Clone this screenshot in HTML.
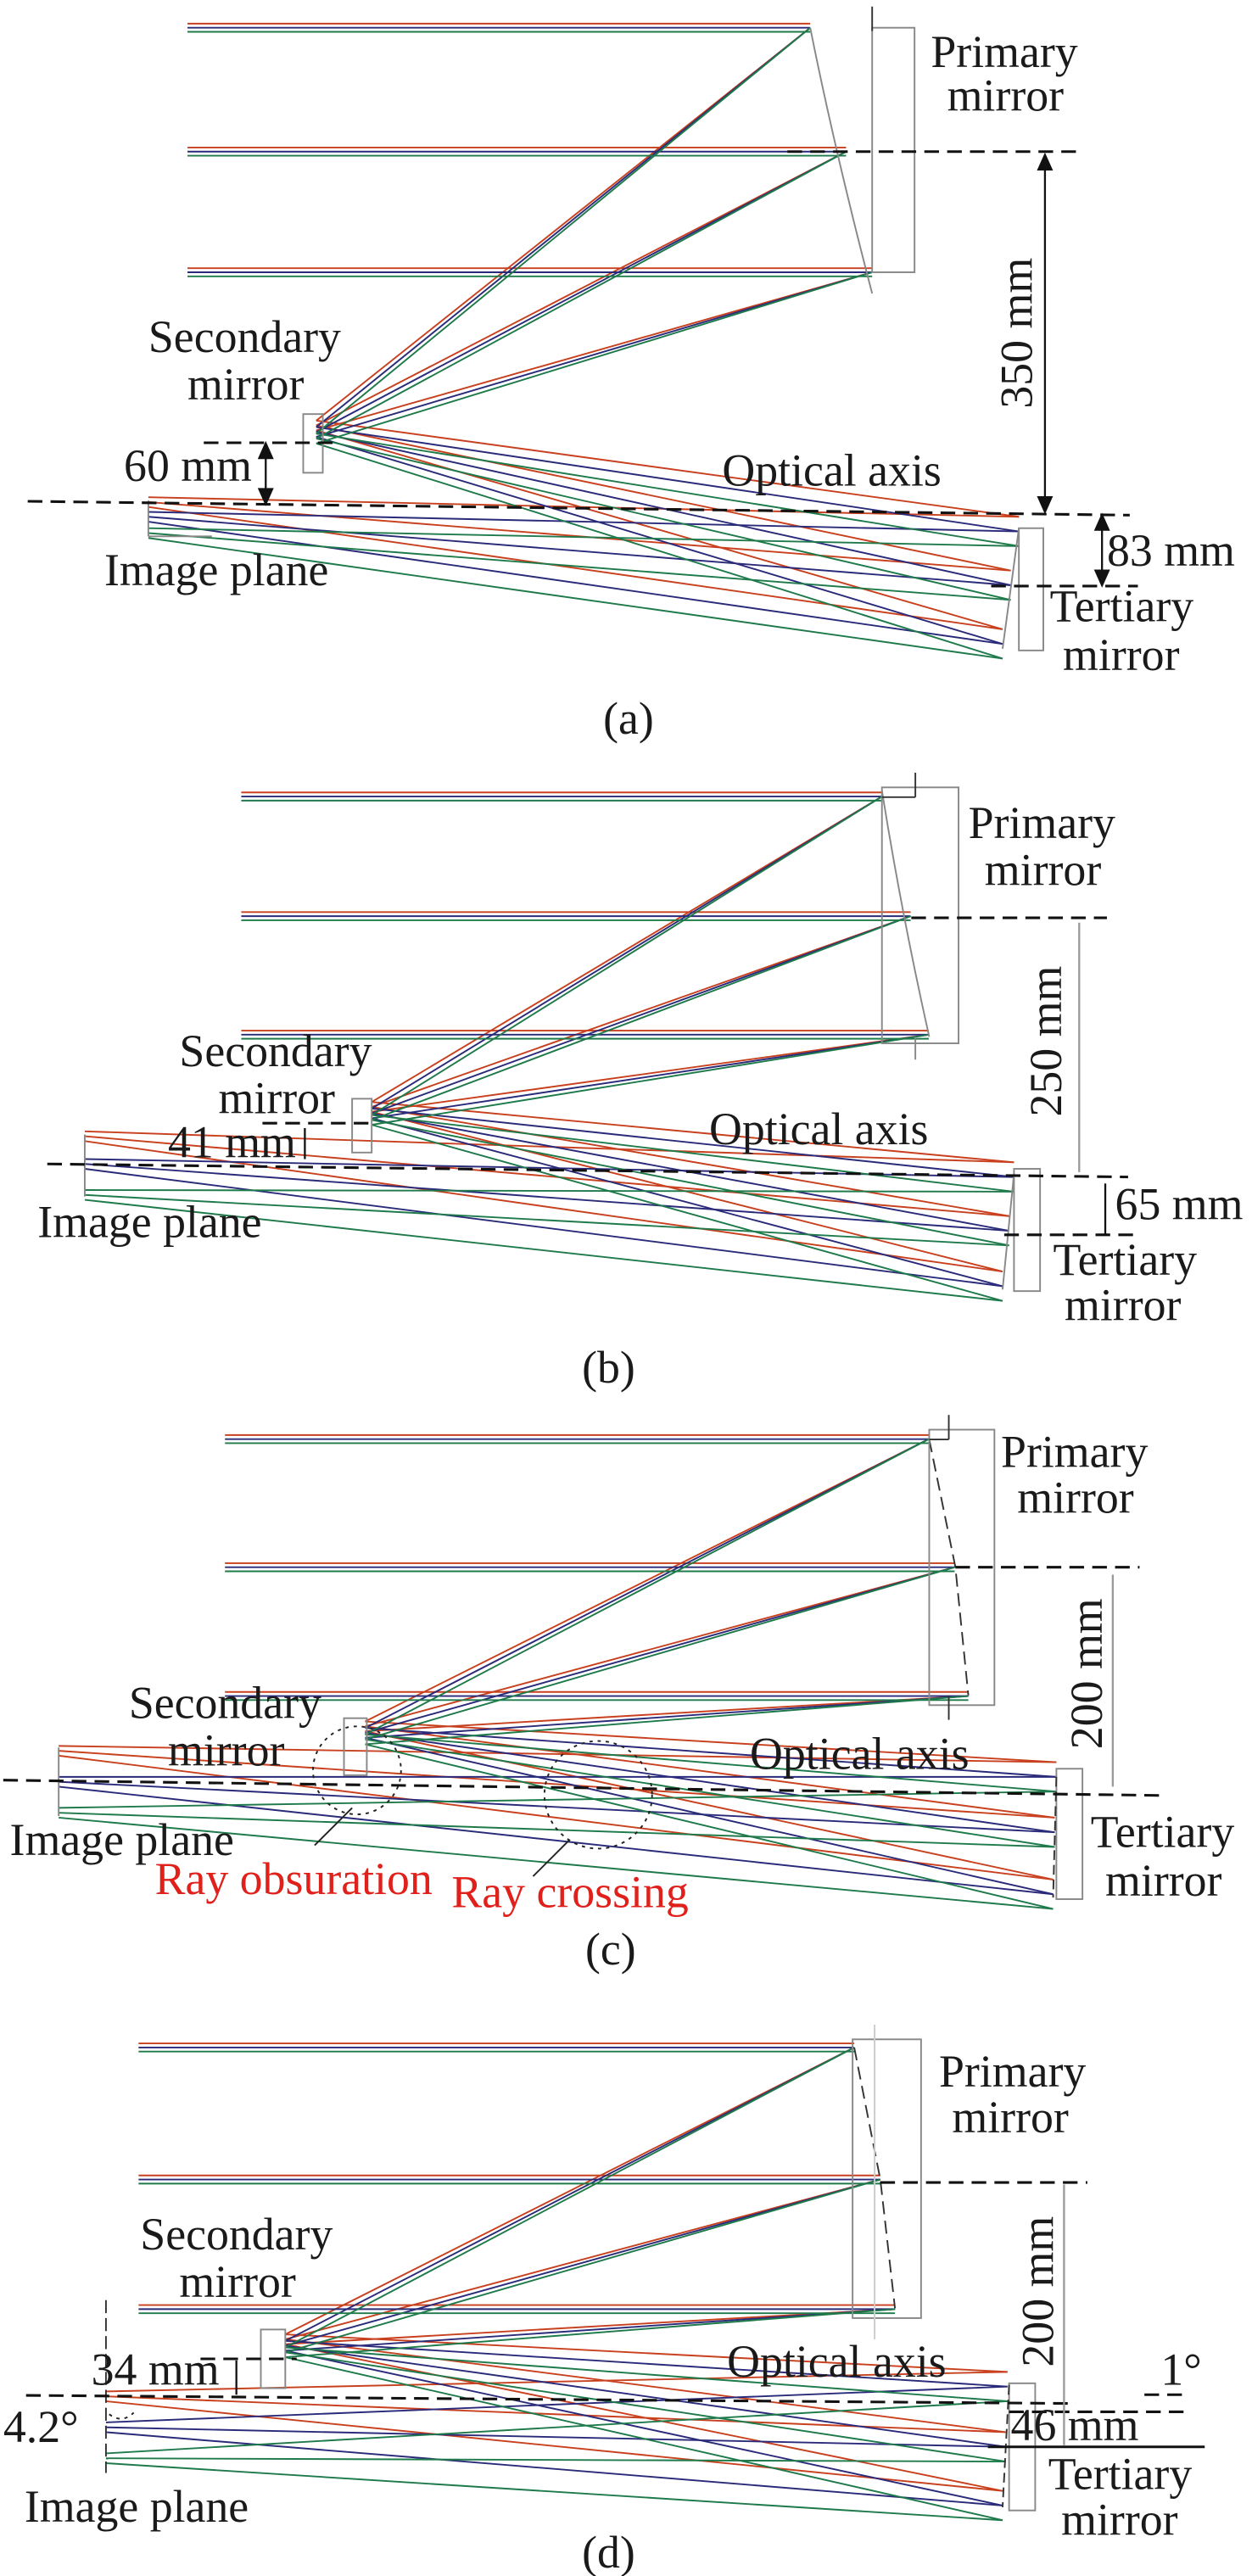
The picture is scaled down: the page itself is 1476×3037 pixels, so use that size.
<!DOCTYPE html>
<html><head><meta charset="utf-8">
<style>
html,body{margin:0;padding:0;background:#fff;}
svg{display:block;}
text{font-family:"Liberation Serif",serif;fill:#1a1a1a;}
</style></head>
<body>
<svg id="s" xmlns="http://www.w3.org/2000/svg" width="1476" height="3037" viewBox="0 0 768 1580.2">
<g id="rays" stroke-width="1" fill="none"></g>
<g fill="none" stroke="#888" stroke-width="1">
<!-- a -->
<path d="M497,17 Q512,92 535,180"/><rect x="535" y="17" width="26" height="150"/><line x1="535" y1="4" x2="535" y2="19" stroke="#333"/>
<rect x="186" y="254" width="12" height="36"/>
<rect x="625" y="324" width="15" height="75"/><path d="M625,324 L615,398"/>
<line x1="91" y1="307" x2="91" y2="329"/><line x1="91" y1="329" x2="130" y2="329"/>
<!-- b -->
<path d="M541,485 Q553,560 570,636"/><rect x="541" y="483" width="47" height="157"/><line x1="561.5" y1="474" x2="561.5" y2="489" stroke="#333"/><line x1="541" y1="489" x2="561.5" y2="489" stroke="#333"/>
<line x1="561.5" y1="636" x2="561.5" y2="650"/>
<rect x="216" y="674" width="12" height="33"/>
<rect x="622" y="717" width="16" height="75"/><path d="M622,720 L615,791"/>
<line x1="52" y1="696" x2="52" y2="734"/>
<!-- c -->
<path d="M570,883 L586,961 L594,1040" stroke-dasharray="8,4" stroke="#333"/><rect x="570" y="877" width="40" height="169"/><line x1="582" y1="868" x2="582" y2="883" stroke="#333"/><line x1="570" y1="883" x2="582" y2="883" stroke="#333"/>
<line x1="582" y1="1040" x2="582" y2="1055" stroke="#333"/>
<rect x="211" y="1054" width="14" height="35"/>
<rect x="648" y="1085" width="16" height="80"/><path d="M648,1090 L646,1164" stroke-dasharray="6,3" stroke="#333"/>
<line x1="36" y1="1072" x2="36" y2="1114"/>
<!-- d -->
<path d="M524,1256 L540,1337 L549,1416" stroke-dasharray="8,4" stroke="#333"/><rect x="523" y="1251" width="42" height="171"/><line x1="536.5" y1="1242" x2="536.5" y2="1435" stroke="#ccc"/>
<rect x="160" y="1429" width="15" height="36"/>
<rect x="619" y="1462" width="16" height="78"/><path d="M619,1463 L615,1538" stroke-dasharray="6,3" stroke="#333"/>
<line x1="65" y1="1411" x2="65" y2="1517" stroke="#333" stroke-dasharray="8,3"/>
</g>
<g stroke="#111" stroke-width="1.6" fill="none" stroke-dasharray="9,5">
<line x1="483" y1="93" x2="661" y2="93"/>
<line x1="125" y1="271.6" x2="208" y2="271.6"/>
<line x1="17" y1="307.5" x2="693" y2="316"/>
<line x1="608" y1="359.5" x2="698" y2="359.5"/>
<line x1="559" y1="563" x2="679" y2="563"/>
<line x1="161" y1="689" x2="228" y2="689"/>
<line x1="29" y1="714" x2="692" y2="722"/>
<line x1="616" y1="757.5" x2="695" y2="757.5"/>
<line x1="586" y1="961.4" x2="699" y2="961.4"/>
<line x1="2" y1="1092" x2="713" y2="1101.4"/>
<line x1="540" y1="1338.8" x2="667" y2="1338.8"/>
<line x1="123" y1="1447" x2="182" y2="1447"/>
<line x1="16" y1="1469.4" x2="660" y2="1474.4"/>
<line x1="619" y1="1479.5" x2="727" y2="1479.5"/>
<line x1="702" y1="1469" x2="729" y2="1469"/>
</g>
<g stroke="#111" stroke-width="1.2" fill="#111">
<line x1="641" y1="97" x2="641" y2="312"/><path d="M637,104 L641,95 L645,104Z M637,305 L641,314 L645,305Z"/>
<line x1="163" y1="274" x2="163" y2="307"/><path d="M159,281 L163,272 L167,281Z M159,300 L163,309 L167,300Z"/>
<line x1="676" y1="318" x2="676" y2="357"/><path d="M672,325 L676,316 L680,325Z M672,350 L676,359 L680,350Z"/>
<line x1="662" y1="566" x2="662" y2="719" stroke="#999"/>
<line x1="678" y1="726" x2="678" y2="757"/>
<line x1="187" y1="692" x2="187" y2="711"/>
<line x1="682.6" y1="966" x2="682.6" y2="1096" stroke="#999"/>
<line x1="652.7" y1="1340" x2="652.7" y2="1500" stroke="#999"/>
<line x1="606" y1="1501" x2="739" y2="1501" stroke-width="1.6"/>
<line x1="145" y1="1448" x2="145" y2="1469"/>
</g>
<g fill="none" stroke="#222" stroke-dasharray="2,3">
<circle cx="219" cy="1086" r="27"/><circle cx="367" cy="1101" r="33"/>
<path d="M67,1481 Q75,1487 82,1480"/>
</g>
<g stroke="#222"><line x1="216" y1="1109" x2="193" y2="1132"/><line x1="349" y1="1129" x2="327" y2="1151"/></g>
<g font-size="28">
<text x="571" y="41">Primary</text><text x="581" y="68">mirror</text>
<text x="91" y="216">Secondary</text><text x="115" y="245">mirror</text>
<text x="76" y="295">60 mm</text>
<text x="443" y="298">Optical axis</text>
<text x="679" y="347">83 mm</text>
<text x="64" y="359">Image plane</text>
<text x="644" y="381">Tertiary</text><text x="652" y="411">mirror</text>
<text x="370" y="450">(a)</text>
<text transform="translate(633,250.6) rotate(-90)">350 mm</text>

<text x="594" y="514">Primary</text><text x="604" y="543">mirror</text>
<text x="110" y="654">Secondary</text><text x="134" y="683">mirror</text>
<text x="103" y="710">41 mm</text>
<text x="435" y="702">Optical axis</text>
<text x="684" y="748">65 mm</text>
<text x="23" y="759">Image plane</text>
<text x="646" y="782">Tertiary</text><text x="653" y="810">mirror</text>
<text x="357" y="848">(b)</text>
<text transform="translate(651,685) rotate(-90)">250 mm</text>

<text x="614" y="900">Primary</text><text x="624" y="928">mirror</text>
<text x="79" y="1054">Secondary</text><text x="103" y="1083">mirror</text>
<text x="460" y="1085">Optical axis</text>
<text x="6" y="1138">Image plane</text>
<text x="95" y="1162" style="fill:#e0201a">Ray obsuration</text>
<text x="277" y="1170" style="fill:#e0201a">Ray crossing</text>
<text x="669" y="1133">Tertiary</text><text x="678" y="1163">mirror</text>
<text x="359" y="1205">(c)</text>
<text transform="translate(676,1073) rotate(-90)">200 mm</text>

<text x="576" y="1280">Primary</text><text x="584" y="1308">mirror</text>
<text x="86" y="1380">Secondary</text><text x="110" y="1409">mirror</text>
<text x="56" y="1463">34 mm</text>
<text x="2" y="1498">4.2°</text>
<text x="446" y="1458">Optical axis</text>
<text x="712" y="1463">1°</text>
<text x="620" y="1497">46 mm</text>
<text x="15" y="1547">Image plane</text>
<text x="643" y="1527">Tertiary</text><text x="651" y="1555">mirror</text>
<text x="357" y="1575">(d)</text>
<text transform="translate(646,1452) rotate(-90)">200 mm</text>
</g>
</svg>
<script>
var P=[
 {px:[497,519,535],py:[17,93,167],xin:115,s:[194,258],tx:[625,620,615],ty:[326,359,395],ix:91,iy:[308,317,327]},
 {px:[541,558.6,569.7],py:[488.6,562,634.7],xin:148,s:[228,676],tx:[622,619,615],ty:[722,755,789],ix:52,iy:[697,714,733]},
 {px:[569.7,585.6,594],py:[882.8,961.4,1040.4],xin:138,s:[224,1056],tx:[648,647,646],ty:[1090,1124,1162],ix:36,iy:[1074,1093,1112]},
 {px:[524,540,549],py:[1256,1337,1416.5],xin:85,s:[175,1432],tx:[618,617,615],ty:[1464,1501,1537],ix:65,iy:[1470,1489,1508]}
];
var cols=["#c8401e","#2a2a7a","#1e7a4a"];
var g=document.getElementById("rays"),h="";
function L(a,b,c,d,col){h+='<line x1="'+a+'" y1="'+b+'" x2="'+c+'" y2="'+d+'" stroke="'+col+'"/>';}
P.forEach(function(p){
 for(var k=0;k<3;k++){var dy=(k-1)*2.5,col=cols[k];
  for(var j=0;j<3;j++){
   L(p.xin,p.py[j]+dy,p.px[j],p.py[j]+dy,col);
   L(p.px[j],p.py[j],p.s[0],p.s[1]+k*4+j*3,col);
   L(p.s[0],p.s[1]+k*4+j*3,p.tx[j],p.ty[j]+(k-1)*9,col);
   L(p.tx[j],p.ty[j]+(k-1)*9,p.ix,p.iy[k]+(j-1)*3,col);
  }}
});
g.innerHTML=h;
</script>
</body></html>
